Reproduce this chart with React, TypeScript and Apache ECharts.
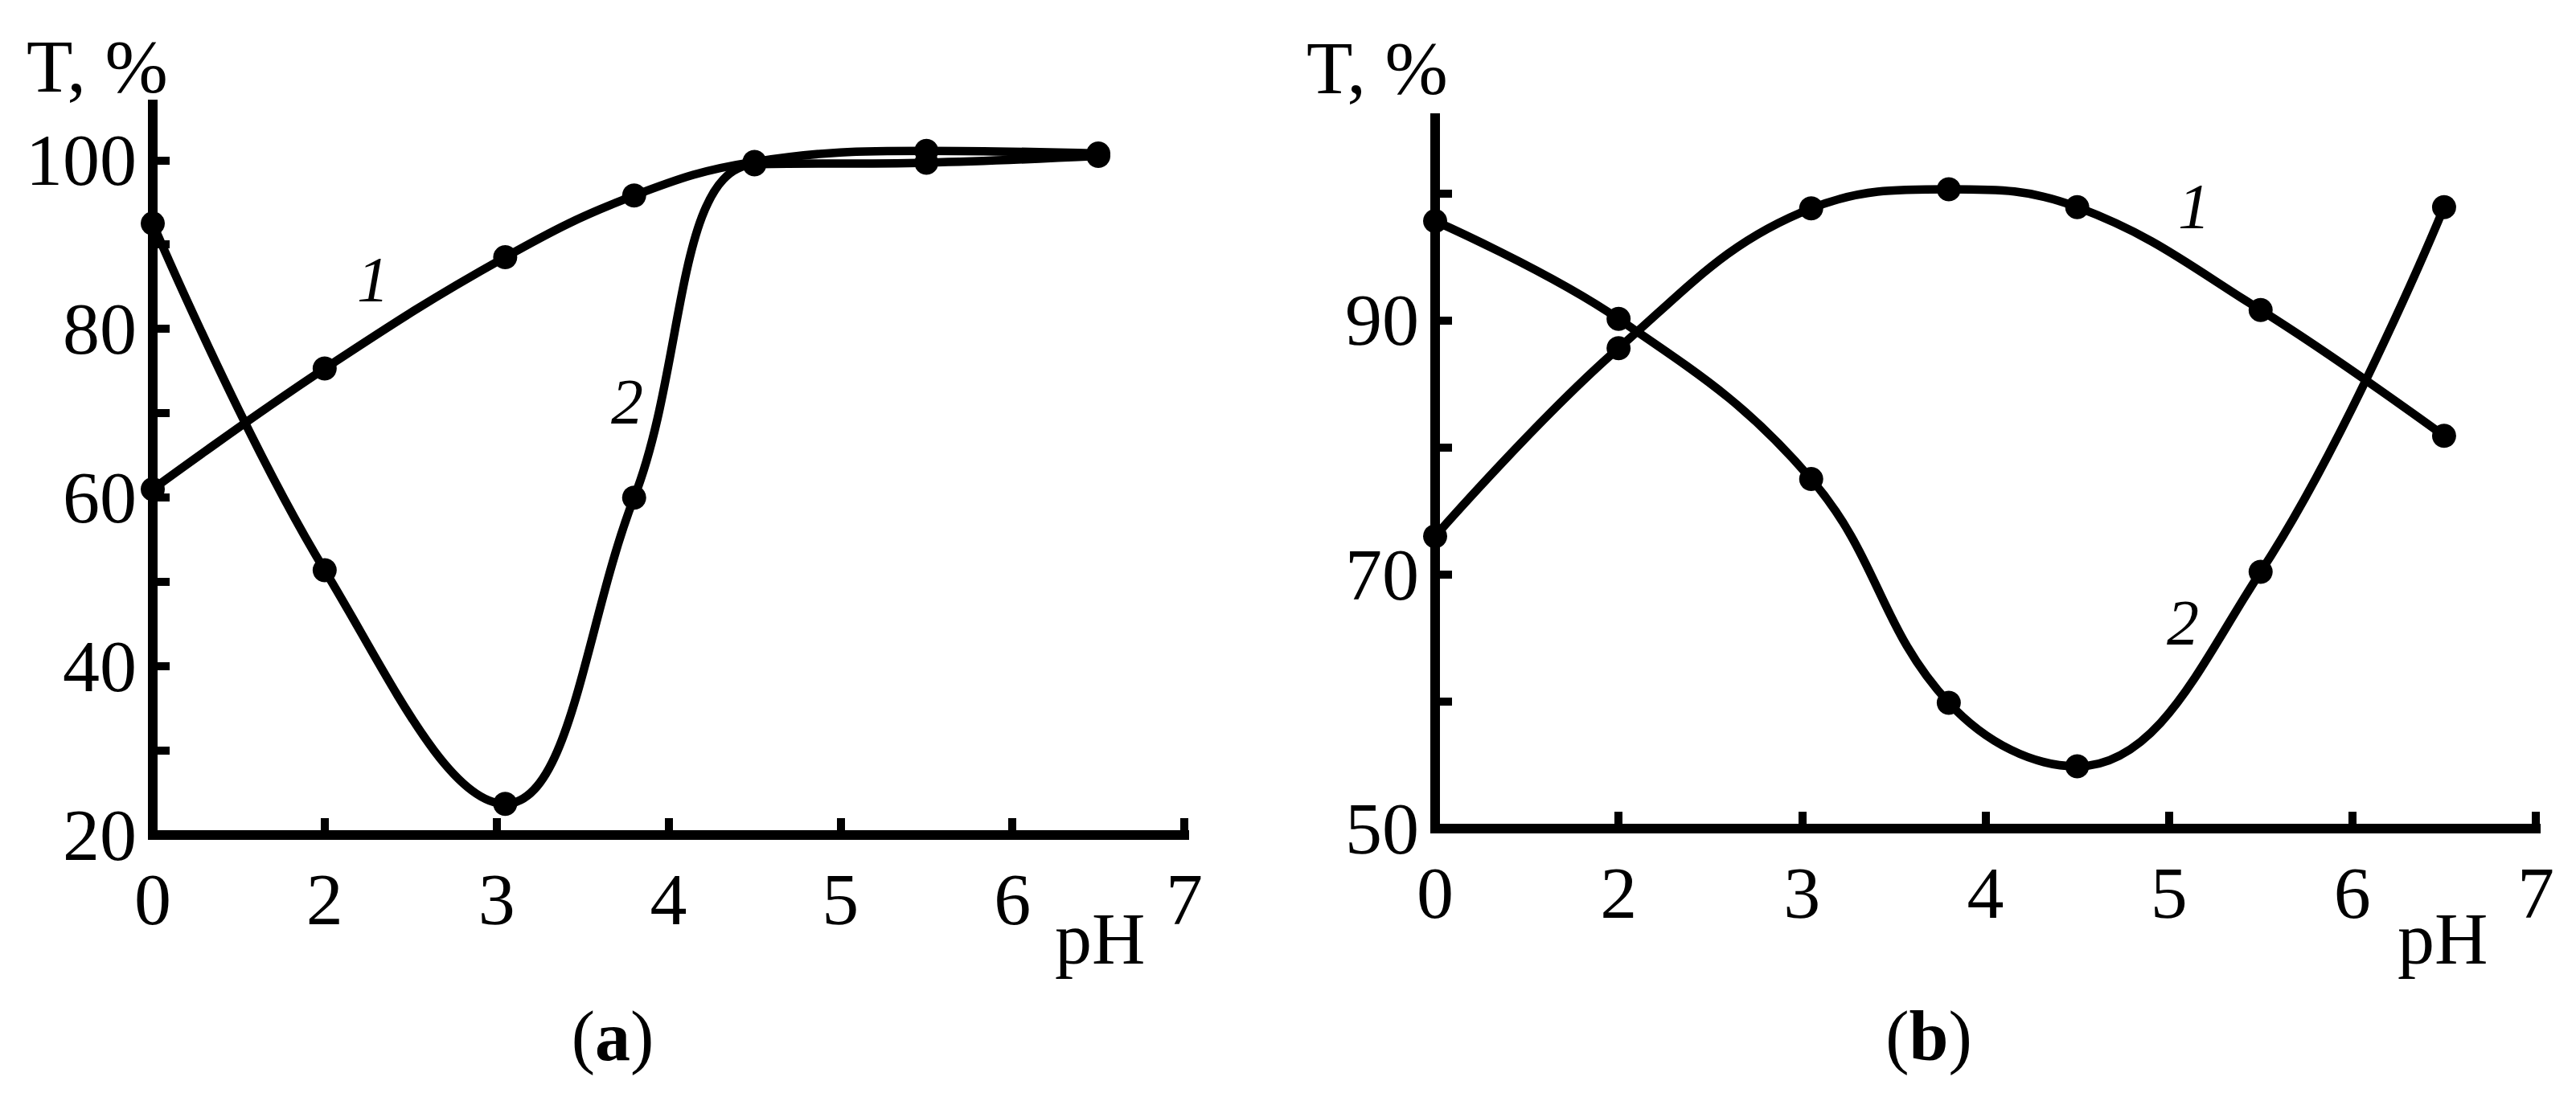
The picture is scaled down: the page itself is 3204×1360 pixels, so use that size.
import React, { useEffect, useRef } from "react";
import * as echarts from "echarts";

// pH values of measured points (0 is drawn at the first axis slot)
const phPoints = [0, 2, 3.05, 3.8, 4.5, 5.5, 6.5];
const xTickLabels = ["0", "2", "3", "4", "5", "6", "7"];

// Panel (a)
const aCurve1 = [61, 75.3, 88.5, 95.8, 99.8, 101.1, 100.8];
const aCurve2 = [92.5, 51.4, 23.7, 60, 99.5, 99.7, 100.5];
const aYLabels = [20, 40, 60, 80, 100];
const aYTicks = [20, 30, 40, 50, 60, 70, 80, 90, 100];

// Panel (b)
const bCurve1 = [73.0, 87.8, 98.8, 100.3, 98.9, 90.8, 80.9];
const bCurve2 = [97.8, 90.1, 77.5, 59.9, 54.9, 70.2, 98.9];
const bYLabels = [50, 70, 90];
const bYTicks = [50, 60, 70, 80, 90, 100];

const FONT = "Liberation Serif";

// the axis is broken: pH 0 sits in the slot of 1
const slot = (ph: number) => (ph === 0 ? 1 : ph);
const pairs = (ys: number[]) => phPoints.map((p, i) => [slot(p), ys[i]]);

export default function App() {
  const ref = useRef<HTMLDivElement>(null);
  useEffect(() => {
    if (!ref.current) return;
    const chart = echarts.init(ref.current, null, { renderer: "svg" });
    const axisLineStyle = { color: "#000", width: 12, cap: "square" as const };
    const tick = { inside: true, length: 21, lineStyle: { color: "#000", width: 10 } };
    const labelStyle = { color: "#000", fontFamily: FONT, fontSize: 92 };
    const mkX = (gi: number) => ({
      gridIndex: gi,
      type: "value",
      min: 1,
      max: 7,
      interval: 1,
      axisLine: { show: true, onZero: false, lineStyle: axisLineStyle },
      axisTick: { show: true, ...tick },
      axisLabel: {
        ...labelStyle,
        margin: 34,
        formatter: (v: number) => xTickLabels[v === 1 ? 0 : v - 1],
      },
      splitLine: { show: false },
    });
    const mkY = (gi: number, min: number, max: number, labels: number[], ticks: number[]) => ({
      gridIndex: gi,
      type: "value",
      min,
      max,
      axisLine: { show: true, onZero: false, lineStyle: axisLineStyle },
      axisTick: { show: true, ...tick, customValues: ticks },
      axisLabel: { ...labelStyle, margin: 20, customValues: labels },
      splitLine: { show: false },
    });
    const mkSeries = (gi: number, data: number[]) => ({
      type: "line",
      xAxisIndex: gi,
      yAxisIndex: gi,
      data: pairs(data),
      smooth: 0.4,
      symbol: "circle",
      symbolSize: 30,
      itemStyle: { color: "#000" },
      lineStyle: { color: "#000", width: 10.5 },
      z: 3,
    });
    const txt = (x: number, y: number, text: string, extra: any = {}) => ({
      type: "text",
      x,
      y,
      style: {
        text,
        fill: "#000",
        fontFamily: FONT,
        fontSize: 92,
        verticalAlign: "middle",
        ...extra,
      },
    });
    const caption = (x: number, letter: string) => ({
      type: "text",
      x,
      y: 1289,
      style: {
        text: "{p|(}{b|" + letter + "}{p|)}",
        align: "center",
        verticalAlign: "middle",
        rich: {
          p: { fontFamily: FONT, fontSize: 88, fill: "#000" },
          b: { fontFamily: FONT, fontSize: 88, fontWeight: "bold", fill: "#000" },
        },
      },
    });
    chart.setOption({
      animation: false,
      backgroundColor: "#fff",
      grid: [
        { left: 190, top: 130, width: 1283, height: 909 },
        { left: 1785, top: 147, width: 1369, height: 884 },
      ],
      xAxis: [mkX(0), mkX(1)],
      yAxis: [
        mkY(0, 20, 106.6, aYLabels, aYTicks),
        mkY(1, 50, 105.9, bYLabels, bYTicks),
      ],
      series: [
        mkSeries(0, aCurve1),
        mkSeries(0, aCurve2),
        mkSeries(1, bCurve1),
        mkSeries(1, bCurve2),
      ],
      graphic: [
        txt(33, 82, "T, %", { fontSize: 94 }),
        txt(1625, 84, "T, %", { fontSize: 94 }),
        txt(1312, 1168, "pH"),
        txt(2982, 1168, "pH"),
        txt(464, 348, "1", { fontSize: 80, fontStyle: "italic", align: "center" }),
        txt(780, 500, "2", { fontSize: 80, fontStyle: "italic", align: "center" }),
        txt(2729, 257, "1", { fontSize: 80, fontStyle: "italic", align: "center" }),
        txt(2715, 775, "2", { fontSize: 80, fontStyle: "italic", align: "center" }),
        caption(762, "a"),
        caption(2399, "b"),
      ],
    });
    return () => chart.dispose();
  }, []);
  return (
    <div
      ref={ref}
      style={{ position: "absolute", left: 0, top: 0, width: 3204, height: 1360, background: "#fff" }}
    />
  );
}
